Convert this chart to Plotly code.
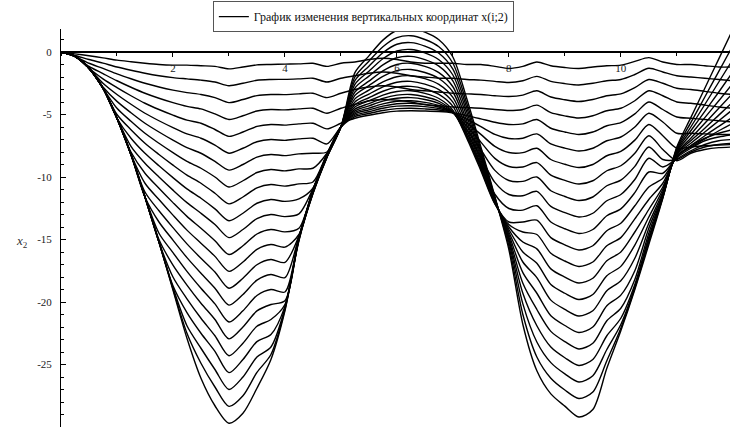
import plotly.graph_objects as go

T = [0, 0.25, 0.5, 0.75, 1, 1.25, 1.5, 1.75, 2, 2.25,
     2.5, 2.75, 3, 3.25, 3.5, 3.75, 4, 4.25, 4.5, 4.75,
     5, 5.25, 5.5, 5.75, 6, 6.25, 6.5, 6.75, 7, 7.25,
     7.5, 7.75, 8, 8.25, 8.5, 8.75, 9, 9.25, 9.5, 9.75,
     10, 10.25, 10.5, 10.75, 11, 11.25, 11.5, 11.75, 12]

node_01 = [0, -0.15, -0.3, -0.47, -0.65, -0.78, -0.9, -1.0, -1.05, -1.05,
           -1.1, -1.15, -1.35, -1.2, -1.03, -1.0, -0.97, -0.95, -0.9, -1.15,
           -0.9, -0.8, -0.6, -0.5, -0.6, -0.8, -0.9, -0.9, -0.9, -1.0,
           -1.0, -1.15, -1.32, -1.15, -0.8, -1.1, -1.24, -1.32, -1.2, -1.1,
           -1.05, -0.75, -0.45, -0.8, -1.0, -1.0, -1.1, -1.2, -1.2]
node_02 = [0, -0.28, -0.6, -0.89, -1.2, -1.46, -1.7, -1.9, -2.05, -2.15,
           -2.25, -2.4, -2.7, -2.5, -2.26, -2.2, -2.19, -2.15, -2.1, -2.4,
           -2.1, -1.9, -1.7, -1.6, -1.7, -1.9, -2.0, -2.1, -2.1, -2.2,
           -2.25, -2.35, -2.44, -2.3, -1.95, -2.35, -2.53, -2.64, -2.5, -2.3,
           -2.2, -1.8, -1.3, -1.6, -1.9, -2.0, -2.1, -2.2, -2.3]
node_03 = [0, -0.35, -0.9, -1.31, -1.75, -2.14, -2.5, -2.8, -3.05, -3.25,
           -3.4, -3.65, -4.05, -3.8, -3.49, -3.4, -3.41, -3.35, -3.3, -3.65,
           -3.3, -3.0, -2.8, -2.7, -2.8, -3.0, -3.1, -3.2, -3.3, -3.35,
           -3.4, -3.5, -3.56, -3.45, -3.1, -3.6, -3.82, -3.96, -3.8, -3.5,
           -3.35, -2.85, -2.2, -2.5, -2.9, -3.0, -3.15, -3.3, -3.4]
node_04 = [0, -0.35, -1.15, -1.73, -2.3, -2.82, -3.3, -3.7, -4.05, -4.35,
           -4.55, -4.95, -5.4, -5.1, -4.72, -4.6, -4.63, -4.55, -4.5, -4.9,
           -4.5, -4.2, -3.9, -3.8, -3.85, -4.0, -4.2, -4.3, -4.4, -4.45,
           -4.5, -4.6, -4.68, -4.6, -4.25, -4.85, -5.11, -5.28, -5.1, -4.7,
           -4.5, -3.9, -3.1, -3.5, -4.0, -4.1, -4.25, -4.4, -4.5]
node_05 = [0, -0.35, -1.3, -2.15, -2.85, -3.5, -4.1, -4.6, -5.05, -5.45,
           -5.7, -6.2, -6.75, -6.4, -5.95, -5.8, -5.85, -5.75, -5.7, -6.15,
           -5.7, -5.3, -5.06, -4.86, -4.73, -4.7, -4.72, -4.76, -4.86, -5.09,
           -5.35, -5.62, -5.8, -5.75, -5.4, -6.1, -6.4, -6.6, -6.4, -5.9,
           -5.65, -4.95, -4.0, -4.6, -5.2, -5.3, -5.4, -5.5, -5.6]
node_06 = [0, -0.35, -1.3, -2.5, -3.4, -4.18, -4.9, -5.5, -6.05, -6.55,
           -6.9, -7.45, -8.1, -7.7, -7.18, -7.0, -7.07, -6.95, -6.9, -7.35,
           -6.0, -5.17, -4.92, -4.68, -4.53, -4.5, -4.55, -4.64, -4.86, -5.38,
           -5.97, -6.59, -6.92, -6.9, -6.55, -7.35, -7.69, -7.92, -7.7, -7.1,
           -6.8, -6.0, -4.9, -5.6, -6.5, -6.5, -6.55, -6.6, -6.6]
node_07 = [0, -0.35, -1.3, -2.8, -3.95, -4.86, -5.7, -6.4, -7.05, -7.65,
           -8.1, -8.75, -9.45, -9.0, -8.41, -8.2, -8.29, -8.15, -8.1, -8.0,
           -6.0, -5.06, -4.78, -4.5, -4.33, -4.3, -4.37, -4.52, -4.85, -5.67,
           -6.59, -7.55, -8.04, -8.05, -7.7, -8.6, -8.98, -9.24, -9.0, -8.3,
           -7.95, -7.05, -5.8, -6.7, -7.7, -7.6, -7.5, -7.45, -7.4]
node_08 = [0, -0.35, -1.3, -2.9, -4.5, -5.54, -6.5, -7.3, -8.05, -8.75,
           -9.3, -10.0, -10.8, -10.3, -9.64, -9.4, -9.51, -9.35, -9.3, -8.1,
           -6.0, -4.95, -4.63, -4.33, -4.14, -4.1, -4.2, -4.4, -4.85, -5.95,
           -7.21, -8.51, -9.16, -9.2, -8.85, -9.85, -10.27, -10.56, -10.3, -9.5,
           -9.1, -8.1, -6.7, -7.8, -8.7, -8.1, -7.8, -7.65, -7.6]
node_09 = [0, -0.35, -1.3, -2.9, -5.0, -6.22, -7.3, -8.2, -9.05, -9.85,
           -10.5, -11.3, -12.15, -11.6, -10.87, -10.6, -10.73, -10.55, -10.4, -8.15,
           -6.0, -4.84, -4.49, -4.15, -3.94, -3.9, -4.03, -4.28, -4.85, -6.24,
           -7.82, -9.47, -10.28, -10.35, -10.0, -11.1, -11.56, -11.88, -11.6, -10.7,
           -10.25, -9.15, -7.6, -8.6, -8.6, -8.0, -7.6, -7.4, -7.3]
node_10 = [0, -0.35, -1.3, -2.9, -5.3, -6.9, -8.1, -9.1, -10.05, -10.95,
           -11.7, -12.55, -13.5, -12.9, -12.1, -11.8, -11.95, -11.75, -10.9, -8.2,
           -6.0, -4.71, -4.31, -3.93, -3.7, -3.65, -3.8, -4.11, -4.81, -6.5,
           -8.42, -10.43, -11.4, -11.5, -11.15, -12.35, -12.85, -13.2, -12.9, -11.9,
           -11.4, -10.2, -8.5, -9.2, -8.55, -7.9, -7.4, -7.1, -7.0]
node_11 = [0, -0.35, -1.3, -2.9, -5.3, -7.55, -8.9, -10.0, -11.05, -12.05,
           -12.9, -13.8, -14.85, -14.2, -13.33, -13.0, -13.17, -12.95, -10.95, -8.2,
           -6.0, -4.57, -4.13, -3.71, -3.45, -3.4, -3.58, -3.94, -4.76, -6.76,
           -9.02, -11.38, -12.52, -12.65, -12.3, -13.6, -14.14, -14.52, -14.2, -13.1,
           -12.55, -11.25, -9.6, -9.7, -8.45, -7.7, -7.1, -6.8, -6.6]
node_12 = [0, -0.35, -1.3, -2.9, -5.3, -8.0, -9.7, -10.9, -12.05, -13.15,
           -14.1, -15.1, -16.2, -15.5, -14.56, -14.2, -14.39, -14.1, -11.0, -8.25,
           -6.0, -4.4, -3.91, -3.45, -3.16, -3.1, -3.31, -3.72, -4.65, -6.91,
           -9.49, -12.16, -13.6, -13.6, -13.45, -14.85, -15.43, -15.84, -15.5, -14.3,
           -13.7, -12.3, -10.8, -10.1, -8.4, -7.5, -6.9, -6.5, -6.2]
node_13 = [0, -0.35, -1.3, -2.9, -5.3, -8.2, -10.5, -11.8, -13.05, -14.25,
           -15.3, -16.35, -17.55, -16.8, -15.79, -15.4, -15.61, -14.6, -11.05, -8.25,
           -6.0, -4.21, -3.66, -3.14, -2.81, -2.75, -2.96, -3.39, -4.35, -6.69,
           -9.35, -12.12, -13.8, -14.4, -14.6, -16.1, -16.72, -17.16, -16.8, -15.5,
           -14.85, -13.35, -11.8, -10.5, -8.35, -7.6, -6.95, -6.3, -5.7]
node_14 = [0, -0.35, -1.3, -2.9, -5.3, -8.2, -11.2, -12.7, -14.05, -15.35,
           -16.5, -17.6, -18.9, -18.1, -17.02, -16.6, -16.83, -14.7, -11.1, -8.3,
           -6.0, -4.0, -3.37, -2.79, -2.42, -2.35, -2.57, -3.01, -4.01, -6.44,
           -9.2, -12.07, -14.0, -15.2, -15.75, -17.35, -18.01, -18.48, -18.1, -16.7,
           -16.0, -14.4, -12.6, -10.8, -8.3, -7.5, -6.7, -5.95, -5.2]
node_15 = [0, -0.35, -1.3, -2.9, -5.3, -8.2, -11.6, -13.6, -15.05, -16.45,
           -17.7, -18.9, -20.25, -19.4, -18.25, -17.8, -18.05, -14.75, -11.1, -8.3,
           -6.0, -3.75, -3.05, -2.39, -1.98, -1.9, -2.13, -2.59, -3.63, -6.16,
           -9.03, -12.02, -14.2, -16.0, -16.9, -18.6, -19.3, -19.8, -19.4, -17.9,
           -17.15, -15.45, -13.2, -11.0, -8.2, -7.3, -6.4, -5.5, -4.6]
node_16 = [0, -0.35, -1.3, -2.9, -5.3, -8.2, -11.6, -14.5, -16.05, -17.55,
           -18.9, -20.15, -21.6, -20.7, -19.48, -19.0, -19.2, -14.8, -11.15, -8.3,
           -6.0, -3.47, -2.69, -1.95, -1.49, -1.4, -1.64, -2.12, -3.2, -5.84,
           -8.84, -11.96, -14.4, -16.8, -18.05, -19.85, -20.59, -21.12, -20.7, -19.1,
           -18.3, -16.5, -13.7, -11.2, -8.15, -7.1, -6.1, -5.05, -4.0]
node_17 = [0, -0.35, -1.3, -2.9, -5.3, -8.2, -11.6, -15.0, -17.05, -18.65,
           -20.1, -21.4, -22.95, -22.0, -20.71, -20.2, -19.9, -14.85, -11.2, -8.35,
           -6.0, -3.2, -2.33, -1.51, -1.0, -0.9, -1.15, -1.65, -2.78, -5.53,
           -8.65, -11.9, -14.6, -17.65, -19.3, -21.1, -21.88, -22.44, -22.0, -20.3,
           -19.45, -17.5, -14.1, -11.35, -8.1, -6.9, -5.7, -4.5, -3.3]
node_18 = [0, -0.35, -1.3, -2.9, -5.3, -8.2, -11.6, -15.2, -18.0, -19.75,
           -21.3, -22.7, -24.3, -23.3, -21.94, -21.4, -20.2, -14.9, -11.2, -8.35,
           -6.0, -2.89, -1.93, -1.03, -0.46, -0.35, -0.61, -1.13, -2.31, -5.18,
           -8.44, -11.83, -14.8, -18.5, -20.6, -22.35, -23.17, -23.76, -23.3, -21.5,
           -20.5, -18.2, -14.5, -11.45, -8.0, -6.6, -5.25, -3.9, -2.5]
node_19 = [0, -0.35, -1.3, -2.9, -5.3, -8.2, -11.6, -15.2, -18.7, -20.85,
           -22.5, -23.95, -25.65, -24.6, -23.17, -22.6, -20.35, -14.95, -11.25, -8.4,
           -6.0, -2.59, -1.54, -0.54, 0.08, 0.2, -0.07, -0.62, -1.84, -4.83,
           -8.23, -11.77, -15.0, -19.3, -21.9, -23.6, -24.46, -25.08, -24.6, -22.7,
           -21.3, -18.6, -14.8, -11.55, -7.9, -6.3, -4.75, -3.2, -1.6]
node_20 = [0, -0.35, -1.3, -2.9, -5.3, -8.2, -11.6, -15.2, -18.85, -21.9,
           -23.7, -25.4, -27.0, -26.0, -24.4, -23.6, -20.5, -15.0, -11.3, -8.4,
           -6.0, -2.29, -1.14, -0.06, 0.62, 0.75, 0.47, -0.1, -1.37, -4.49,
           -8.02, -11.7, -15.2, -20.15, -23.2, -24.85, -25.75, -26.4, -25.9, -23.8,
           -21.8, -18.8, -15.0, -11.6, -7.8, -6.0, -4.2, -2.4, -0.6]
node_21 = [0, -0.35, -1.3, -2.9, -5.3, -8.2, -11.6, -15.2, -18.95, -22.5,
           -24.9, -26.8, -28.35, -27.5, -25.63, -24.2, -20.6, -15.05, -11.3, -8.4,
           -6.0, -2.0, -0.74, 0.42, 1.15, 1.3, 1.0, 0.42, -0.9, -4.14,
           -7.81, -11.64, -15.5, -21.0, -24.4, -26.1, -27.04, -27.72, -27.2, -24.7,
           -22.1, -18.9, -15.2, -11.65, -7.7, -5.65, -3.6, -1.55, 0.5]
node_22 = [0, -0.35, -1.3, -2.9, -5.3, -8.2, -11.6, -15.2, -19.05, -22.9,
           -26.1, -28.3, -29.7, -28.9, -26.9, -24.6, -20.7, -15.1, -11.35, -8.45,
           -6.0, -1.65, -0.31, 0.95, 1.74, 1.9, 1.59, 0.98, -0.4, -3.76,
           -7.59, -11.56, -15.8, -21.8, -25.5, -27.35, -28.33, -29.2, -28.6, -25.3,
           -22.3, -19.0, -15.4, -11.7, -7.6, -5.25, -2.9, -0.55, 1.8]

nodes = [node_01, node_02, node_03, node_04, node_05, node_06, node_07, node_08,
         node_09, node_10, node_11, node_12, node_13, node_14, node_15, node_16,
         node_17, node_18, node_19, node_20, node_21, node_22]

x_tick_vals = [2, 4, 6, 8, 10]
x_tick_text = ["2", "4", "6", "8", "10"]
y_tick_vals = [0, -5, -10, -15, -20, -25]
y_tick_text = ["0", "-5", "-10", "-15", "-20", "-25"]
legend_label = "График изменения вертикальных координат x(i;2)"

SERIF = "Liberation Serif, Times New Roman, serif"

fig = go.Figure()
for idx, ys in enumerate(nodes):
    fig.add_trace(go.Scatter(
        x=T, y=ys, mode="lines",
        line=dict(color="black", width=1.4, shape="spline", smoothing=0.8),
        name=legend_label, showlegend=(idx == 0), hoverinfo="skip",
    ))

Y_MIN, Y_MAX = -30.0, 1.84
fig.update_layout(
    width=730, height=427,
    margin=dict(l=61, r=0, t=29, b=0, autoexpand=False),
    paper_bgcolor="white", plot_bgcolor="white",
    font=dict(family=SERIF, size=12, color="#1a1a1a"),
    showlegend=True,
    legend=dict(x=0.227, y=1.07, xanchor="left", yanchor="top",
                bgcolor="white", bordercolor="#555555", borderwidth=1,
                font=dict(family=SERIF, size=12, color="#111111"),
                itemwidth=30, tracegroupgap=0),
    xaxis=dict(range=[0, 11.95], anchor="free",
               position=(0 - Y_MIN) / (Y_MAX - Y_MIN),
               showgrid=False, zeroline=False, showline=True,
               linecolor="black", linewidth=2,
               tickvals=x_tick_vals, ticktext=x_tick_text,
               ticks="outside", ticklen=4, tickcolor="black",
               minor=dict(dtick=1, ticks="outside", ticklen=3, tickcolor="black"),
               tickfont=dict(family=SERIF, size=11, color="#1a1a1a"),
               ticklabelstandoff=2),
    yaxis=dict(range=[Y_MIN, Y_MAX], showgrid=False, zeroline=False,
               showline=True, linecolor="black", linewidth=1,
               tickvals=y_tick_vals, ticktext=y_tick_text,
               ticks="inside", ticklen=5, tickcolor="black",
               minor=dict(dtick=1, ticks="inside", ticklen=3, tickcolor="black"),
               tickfont=dict(family=SERIF, size=11, color="#1a1a1a"),
               ticklabelstandoff=6),
    annotations=[dict(text="<i>x</i><sub>2</sub>",
                      x=(14 - 61) / 669, y=(427 - 241) / 398,
                      xref="paper", yref="paper", showarrow=False,
                      font=dict(family=SERIF, size=13, color="#333333"))],
)

fig.write_html("out.html", config={"displayModeBar": False},
               post_script="document.body.style.margin='0';")
